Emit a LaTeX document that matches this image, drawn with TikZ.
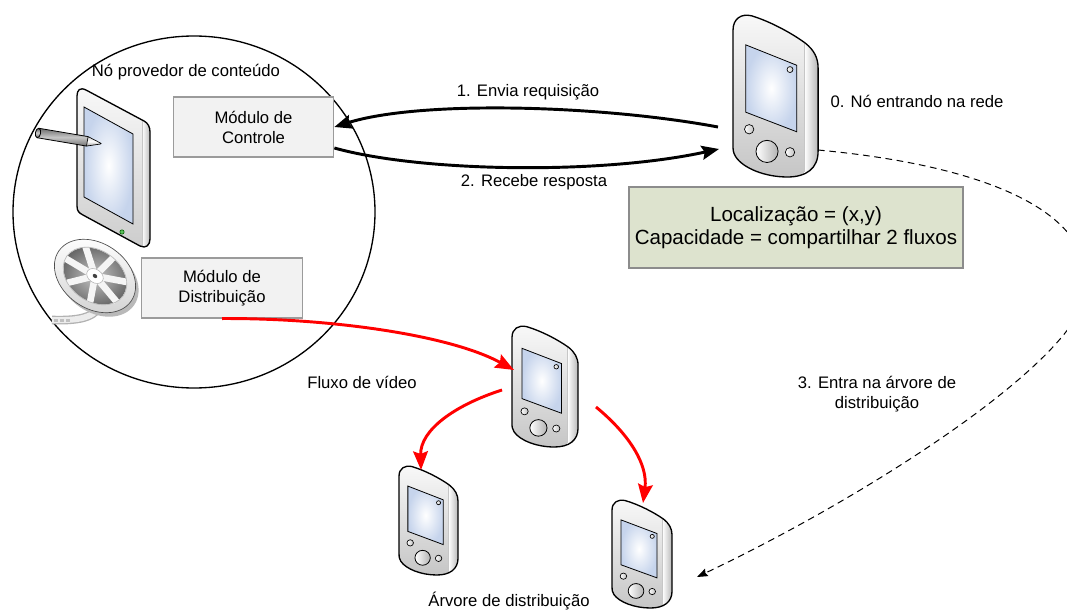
\documentclass[tikz,border=0pt]{standalone}
\usepackage{fontspec}
\setmainfont{Liberation Sans}
\usetikzlibrary{arrows.meta}

\definecolor{screenblue}{RGB}{198,212,236}
\definecolor{modfill}{RGB}{242,242,242}
\definecolor{modedge}{RGB}{155,155,155}
\definecolor{infofill}{RGB}{221,227,206}
\definecolor{infoedge}{RGB}{140,140,140}
\definecolor{ledgreen}{RGB}{90,190,90}

% outline of a handheld device, local box 100 x 190
\newcommand{\pdabodypath}{(0,18) .. controls (0,4) and (10,-2) .. (22,1) .. controls (45,8) and (70,22) .. (85,33) .. controls (95,41) and (100,50) .. (100,62) -- (100,160) .. controls (100,180) and (86,190) .. (64,190) .. controls (38,190) and (12,180) .. (3,166) .. controls (0,161) and (0,158) .. (0,152) -- cycle}

% \pdadevice{name}{left}{top}{width}{height}
\newcommand{\pdadevice}[5]{%
  \pgfmathsetmacro\pdaxu{#4*0.0075}%
  \pgfmathsetmacro\pdayu{-#5*0.75/190}%
  \node[inner sep=0pt, minimum width=#4*0.75pt, minimum height=#5*0.75pt] (#1) at ({#2+#4/2},{#3+#5/2}) {};
  \begin{scope}[shift={(#2,#3)}, x=\pdaxu pt, y=\pdayu pt]
    \shade[top color=gray!5, bottom color=gray!45] \pdabodypath;
    \begin{scope}
      \clip \pdabodypath;
      \shade[left color=white, right color=gray!60] (84,-2) rectangle (101,192);
      \draw[gray!45, line width=0.4pt] (84,33) -- (84,184);
    \end{scope}
    \draw[line width=1pt, line join=round] \pdabodypath;
    \shadedraw[inner color=white, outer color=screenblue, draw=black, line width=0.6pt]
      (15,35) -- (75,59) -- (75,137) -- (15,114) -- cycle;
    \shadedraw[left color=white, right color=gray!50, draw=black, line width=0.5pt] (67,64) circle[radius=3.5];
    \shadedraw[left color=white, right color=gray!50, draw=black, line width=0.5pt] (19,134) circle[radius=5.5];
    \shadedraw[left color=white, right color=gray!60, draw=black, line width=0.6pt] (40,160) circle[radius=13];
    \shadedraw[left color=white, right color=gray!50, draw=black, line width=0.5pt] (67,161) circle[radius=5.5];
  \end{scope}%
}

\tikzset{
  lbl/.style={font=\fontsize{12.5}{15.5}\selectfont, align=center, inner sep=0pt},
  module/.style={draw=modedge, fill=modfill, line width=0.8pt, align=center,
    font=\fontsize{12.5}{15}\selectfont, minimum width=120.5pt, minimum height=45pt, inner sep=0pt},
  infobox/.style={draw=infoedge, fill=infofill, line width=0.8pt, align=center,
    font=\fontsize{15.4}{17.4}\selectfont, minimum width=250.5pt, minimum height=60.75pt, inner sep=0pt},
  blackmsg/.style={line width=2.2pt, -{Stealth[length=13pt, width=10.5pt, inset=2pt]}},
  redflow/.style={draw=red, line width=2.2pt, -{Stealth[length=14pt, width=11pt, inset=2pt]}},
  dashjoin/.style={line width=0.75pt, dash pattern=on 5pt off 3.5pt, -{Stealth[length=8pt, width=6pt, inset=1pt]}},
}

\begin{document}
\begin{tikzpicture}[x=0.75pt, y=-0.75pt]
\useasboundingbox (0,0) rectangle (1067,610);

% content provider node
\draw[line width=1pt] (194,212) ellipse[x radius=181, y radius=176];
\node[lbl] (provlabel) at (186,72) {Nó provedor de conteúdo};

% tablet
\newcommand{\tabletpath}{(77,96) .. controls (77,90) and (80,87) .. (86,90) -- (144,121) .. controls (148,123) and (150,127) .. (150,132) -- (150,239) .. controls (150,245) and (146,249) .. (140,246) -- (83,215) .. controls (79,213) and (77,211) .. (77,206) -- cycle}
\shade[top color=gray!5, bottom color=gray!40] \tabletpath;
\begin{scope}
  \clip \tabletpath;
  \shade[left color=white, right color=gray!60] (142,115) rectangle (151,250);
  \draw[gray!45, line width=0.4pt] (142.5,121) -- (142.5,246);
\end{scope}
\draw[line width=1pt, line join=round] \tabletpath;
\shadedraw[inner color=white, outer color=screenblue, draw=black, line width=0.6pt]
  (84,107) -- (133,134) -- (133,224) -- (84,197) -- cycle;
\filldraw[fill=ledgreen, draw=green!35!black, line width=0.4pt] (122,232) circle[radius=2.2];

% stylus
\begin{scope}[shift={(38,133)}, rotate=-9.6]
  \shade[top color=gray!85!black, bottom color=gray!90!black, middle color=gray!45] (0,-4.8) rectangle (50,4.8);
  \draw[black, line width=0.6pt] (0,-4.8) -- (50,-4.8) (0,4.8) -- (50,4.8);
  \shadedraw[top color=gray!40, bottom color=gray!75, middle color=white, draw=black, line width=0.5pt]
    (50,-4.8) -- (63,-0.6) -- (64,0) -- (63,0.6) -- (50,4.8) -- cycle;
  \shadedraw[top color=gray!70!black, bottom color=gray!70!black, middle color=gray!35, draw=black, line width=0.6pt]
    (0,0) ellipse[x radius=2.6, y radius=4.8];
\end{scope}

% film strip and reel
\draw[gray!60, line width=6.5pt] (102,300) .. controls (98,316) and (84,321) .. (52,320);
\draw[gray!15, line width=4.5pt] (102,300) .. controls (98,316) and (84,321) .. (52,320);
\foreach \sx in {54,60,66} \fill[gray!50] (\sx,318.5) rectangle ++(3.5,3);
\begin{scope}[shift={(98,280)}, rotate=-35, yscale=0.74]
  \fill[gray!55] (0,0) circle[radius=44];
\end{scope}
\begin{scope}[shift={(95,276)}, rotate=-35, yscale=0.74]
  \shadedraw[top color=white, bottom color=gray!35, draw=gray!60!black, line width=0.5pt] (0,0) circle[radius=44];
  \shade[inner color=gray!45, outer color=gray!80!black] (0,0) circle[radius=34];
  \foreach \i in {0,...,6} \draw[gray!8, line width=5pt] (0,0) -- ({\i*360/7+20}:34.5);
  \draw[gray!55, line width=0.5pt] (0,0) circle[radius=34.5];
  \filldraw[fill=white, draw=gray!60] (0,0) circle[radius=9];
  \fill[gray!50!black] (0,0) circle[radius=2.5];
\end{scope}

% modules
\node[module] (ctrl) at (253.5,127) {Módulo de\\Controle};
\node[module] (dist) at (222,288) {Módulo de\\Distribuição};

% devices
\pdadevice{pdanew}{733}{15}{85}{162}
\pdadevice{pdamid}{512}{326}{66}{121}
\pdadevice{pdaleft}{399}{466}{59}{109}
\pdadevice{pdaright}{612}{500}{60}{108}

% info box
\node[infobox] (info) at (796,227.5) {Localização = (x,y)\\Capacidade = compartilhar 2 fluxos};

% connector ends
\coordinate (reqstart) at (718,127);
\coordinate (respend) at (719,149);
\coordinate (midin) at (514,370);
\coordinate (midoutl) at (502,390);
\coordinate (leftin) at (421,470);
\coordinate (midoutr) at (596,407);
\coordinate (rightin) at (643,503);
\coordinate (newout) at (818,150);
\coordinate (treein) at (697,577);

% request / response
\draw[blackmsg] (reqstart) .. controls (600,105) and (420,100) .. (ctrl.east);
\draw[blackmsg] ([yshift=-15.75pt]ctrl.east) .. controls (420,172) and (600,175) .. (respend);

% video flow
\draw[redflow] (dist.south) .. controls (330,318) and (450,335) .. (midin);
\draw[redflow] (midoutl) .. controls (455,405) and (420,430) .. (leftin);
\draw[redflow] (midoutr) .. controls (630,435) and (648,465) .. (rightin);

% joining the tree
\begin{scope}
  \clip (0,0) rectangle (1067,610);
  \draw[dashjoin] (newout) .. controls (980,165) and (1100,210) .. (1085,295)
    .. controls (1075,360) and (880,490) .. (treein);
\end{scope}

% labels
\node[lbl] (reqlabel) at (528,92) {1. Envia requisição};
\node[lbl] (resplabel) at (534,182) {2. Recebe resposta};
\node[lbl] (newlabel) at (917,101) {0. Nó entrando na rede};
\node[lbl] (videolabel) at (362,382) {Fluxo de vídeo};
\node[lbl] (entrylabel) at (877,394) {3. Entra na árvore de\\distribuição};
\node[lbl] (treelabel) at (509,601) {Árvore de distribuição};
\end{tikzpicture}
\end{document}
